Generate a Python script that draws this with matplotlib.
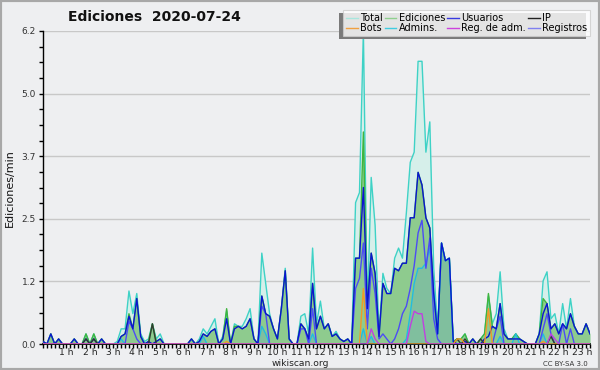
import numpy as np
import matplotlib
matplotlib.use("Agg")
import matplotlib.pyplot as plt
from matplotlib.lines import Line2D
from matplotlib.patches import Rectangle
from matplotlib.transforms import IdentityTransform

# edits per minute, one value every 10 minutes (00:00 .. 23:20)
total = [
    0.05, 0, 0.2, 0, 0.1, 0,          # 0 h
    0, 0, 0.1, 0, 0, 0.2,             # 1 h
    0, 0.2, 0, 0.1, 0, 0,             # 2 h
    0, 0.05, 0.3, 0.3, 1.05, 0.6,     # 3 h
    1.0, 0.2, 0.05, 0.1, 0.4, 0.1,    # 4 h
    0.2, 0, 0, 0, 0, 0,               # 5 h
    0, 0, 0.1, 0, 0.1, 0.3,           # 6 h
    0.2, 0.35, 0.5, 0, 0.15, 0.65,    # 7 h
    0, 0.4, 0.35, 0.35, 0.5, 0.7,     # 8 h
    0.1, 0, 1.8, 1.2, 0.6, 0.3,       # 9 h
    0.1, 0.7, 1.5, 0.1, 0, 0,         # 10 h
    0.55, 0.6, 0.2, 1.9, 0.4, 0.85,   # 11 h
    0.3, 0.4, 0.15, 0.25, 0.1, 0.05,  # 12 h
    0.1, 0, 2.8, 3.0, 6.2, 0.6,       # 13 h
    3.3, 2.35, 0.2, 1.4, 1.1, 1.0,    # 14 h
    1.7, 1.9, 1.7, 2.6, 3.6, 3.8,     # 15 h
    5.6, 5.6, 3.8, 4.4, 1.5, 0.3,     # 16 h
    2.0, 1.65, 1.7, 0.05, 0.1, 0.1,   # 17 h
    0.2, 0, 0.1, 0, 0.1, 0.2,         # 18 h
    0.95, 0.4, 0.6, 1.43, 0.3, 0.1,   # 19 h
    0.1, 0.2, 0.1, 0.05, 0, 0,        # 20 h
    0, 0.2, 1.25, 1.43, 0.5, 0.6,     # 21 h
    0.2, 0.8, 0.3, 0.9, 0.35, 0.2,    # 22 h
    0.2, 0.4, 0.2,                    # 23 h
]

ediciones = [
    0.05, 0, 0.2, 0, 0.1, 0,
    0, 0, 0.1, 0, 0, 0.2,
    0, 0.2, 0, 0.1, 0, 0,
    0, 0, 0.15, 0.2, 0.6, 0.3,
    0.9, 0.15, 0, 0.05, 0.4, 0.05,
    0.1, 0, 0, 0, 0, 0,
    0, 0, 0.1, 0, 0.05, 0.2,
    0.15, 0.25, 0.3, 0, 0.1, 0.7,
    0, 0.35, 0.35, 0.3, 0.35, 0.5,
    0.1, 0, 0.95, 0.6, 0.55, 0.3,
    0.1, 0.7, 1.45, 0.1, 0, 0,
    0.4, 0.3, 0.1, 1.2, 0.3, 0.55,
    0.3, 0.4, 0.15, 0.2, 0.1, 0.05,
    0.1, 0, 1.7, 1.7, 4.2, 0.7,
    1.8, 1.4, 0.15, 1.2, 1.0, 1.0,
    1.5, 1.45, 1.6, 1.6, 2.5, 2.5,
    3.4, 3.15, 2.5, 2.3, 1.0, 0.2,
    2.0, 1.65, 1.7, 0.05, 0.1, 0.1,
    0.2, 0, 0.1, 0, 0.1, 0.2,
    1.0, 0.35, 0.3, 0.8, 0.2, 0.1,
    0.1, 0.2, 0.1, 0.05, 0, 0,
    0, 0.2, 0.9, 0.8, 0.3, 0.4,
    0.2, 0.4, 0.3, 0.6, 0.35, 0.2,
    0.2, 0.4, 0.2,
]

usuarios = [
    0.05, 0, 0.2, 0, 0.1, 0,
    0, 0, 0.1, 0, 0, 0.1,
    0, 0.1, 0, 0.1, 0, 0,
    0, 0, 0.15, 0.2, 0.55, 0.3,
    0.9, 0.15, 0, 0.05, 0, 0.05,
    0.1, 0, 0, 0, 0, 0,
    0, 0, 0.1, 0, 0.05, 0.2,
    0.15, 0.25, 0.3, 0, 0.1, 0.5,
    0, 0.3, 0.35, 0.3, 0.35, 0.5,
    0.1, 0, 0.95, 0.6, 0.55, 0.3,
    0.1, 0.7, 1.45, 0.1, 0, 0,
    0.4, 0.3, 0.1, 1.2, 0.3, 0.55,
    0.3, 0.4, 0.15, 0.2, 0.1, 0.05,
    0.1, 0, 1.7, 1.7, 3.1, 0.7,
    1.8, 1.4, 0.15, 1.2, 1.0, 1.0,
    1.5, 1.45, 1.6, 1.6, 2.5, 2.5,
    3.4, 3.15, 2.5, 2.3, 1.0, 0.2,
    2.0, 1.65, 1.7, 0.05, 0, 0,
    0.05, 0, 0.1, 0, 0, 0.1,
    0.15, 0.35, 0.3, 0.8, 0.2, 0.1,
    0.1, 0.1, 0.1, 0.05, 0, 0,
    0, 0.2, 0.6, 0.8, 0.3, 0.4,
    0.2, 0.4, 0.3, 0.6, 0.35, 0.2,
    0.2, 0.4, 0.2,
]

ip = [
    0, 0, 0, 0, 0, 0,
    0, 0, 0, 0, 0, 0.1,
    0, 0.1, 0, 0, 0, 0,
    0, 0, 0, 0, 0, 0,
    0, 0, 0, 0, 0.4, 0,
    0, 0, 0, 0, 0, 0,
    0, 0, 0, 0, 0, 0,
    0, 0, 0, 0, 0, 0,
    0, 0, 0, 0, 0, 0,
    0, 0, 0, 0, 0, 0,
    0, 0, 0, 0, 0, 0,
    0, 0, 0, 0, 0, 0,
    0, 0, 0, 0, 0, 0,
    0, 0, 0, 0, 0, 0,
    0, 0, 0, 0, 0, 0,
    0, 0, 0, 0, 0, 0,
    0, 0, 0, 0, 0, 0,
    0, 0, 0, 0, 0.1, 0,
    0.1, 0, 0, 0, 0.1, 0,
    0, 0, 0, 0, 0, 0,
    0, 0, 0, 0, 0, 0,
    0, 0, 0, 0, 0.15, 0,
    0, 0, 0, 0, 0, 0,
    0, 0, 0,
]

bots = [
    0, 0, 0, 0, 0, 0,
    0, 0, 0, 0, 0, 0,
    0, 0, 0, 0, 0, 0,
    0, 0, 0, 0, 0, 0,
    0, 0, 0, 0, 0, 0,
    0, 0, 0, 0, 0, 0,
    0, 0, 0, 0, 0, 0,
    0, 0, 0, 0, 0, 0.05,
    0, 0, 0, 0, 0, 0,
    0, 0, 0, 0, 0, 0,
    0, 0, 0, 0, 0, 0,
    0, 0, 0, 0, 0, 0,
    0, 0, 0, 0, 0, 0,
    0, 0, 0, 0, 1.1, 0,
    0, 0, 0, 0, 0, 0,
    0, 0, 0, 0, 0, 0,
    0, 0, 0, 0, 0, 0,
    0, 0, 0, 0, 0.1, 0.1,
    0, 0, 0, 0, 0, 0,
    0.7, 0, 0, 0, 0, 0,
    0, 0, 0, 0, 0, 0,
    0, 0, 0.05, 0, 0, 0,
    0, 0, 0, 0, 0, 0,
    0, 0, 0,
]

admins = [
    0, 0, 0, 0, 0, 0,
    0, 0, 0, 0, 0, 0,
    0, 0, 0, 0, 0, 0,
    0, 0, 0.1, 0, 0, 0,
    0, 0, 0, 0, 0, 0,
    0, 0, 0, 0, 0, 0,
    0, 0, 0, 0, 0, 0.15,
    0, 0, 0, 0, 0, 0,
    0, 0, 0, 0, 0, 0,
    0, 0, 0.35, 0.2, 0, 0,
    0, 0, 0, 0, 0, 0,
    0, 0, 0, 0.2, 0, 0,
    0, 0, 0, 0, 0, 0,
    0, 0, 0, 0, 0.3, 0,
    0.15, 0, 0, 0, 0, 0,
    0, 0, 0, 0.1, 0.6, 1.2,
    1.5, 1.5, 1.6, 1.9, 1.0, 0.2,
    2.0, 1.65, 1.7, 0, 0, 0,
    0, 0, 0, 0, 0, 0,
    0, 0, 0, 0.15, 0, 0,
    0, 0.2, 0, 0, 0, 0,
    0, 0, 0.2, 0, 0, 0,
    0, 0, 0, 0, 0, 0,
    0, 0, 0,
]

reg_adm = [
    0, 0, 0, 0, 0, 0,
    0, 0, 0, 0, 0, 0,
    0, 0, 0, 0, 0, 0,
    0, 0, 0, 0, 0, 0,
    0, 0, 0, 0, 0, 0,
    0, 0, 0, 0, 0, 0,
    0, 0, 0, 0, 0, 0,
    0, 0, 0, 0, 0, 0,
    0, 0, 0, 0, 0, 0,
    0, 0, 0, 0, 0, 0,
    0, 0, 0, 0, 0, 0,
    0, 0, 0, 0, 0, 0,
    0, 0, 0, 0, 0, 0,
    0, 0, 0, 0, 0, 0,
    0.3, 0.1, 0, 0, 0, 0,
    0, 0, 0, 0, 0.35, 0.65,
    0.6, 0.6, 0.05, 0, 0, 0,
    0, 0, 0, 0, 0, 0,
    0, 0, 0, 0, 0, 0,
    0, 0, 0, 0, 0, 0,
    0, 0, 0, 0, 0, 0,
    0, 0, 0, 0, 0.2, 0.1,
    0, 0, 0, 0, 0, 0,
    0, 0, 0,
]

registros = [
    0, 0, 0, 0, 0, 0,
    0, 0, 0, 0, 0, 0,
    0, 0, 0, 0, 0, 0,
    0, 0, 0, 0, 0.45, 0.3,
    0.1, 0, 0, 0, 0, 0,
    0, 0, 0, 0, 0, 0,
    0, 0, 0, 0, 0, 0,
    0, 0, 0, 0, 0, 0,
    0, 0, 0, 0, 0, 0,
    0, 0, 0.75, 0.6, 0, 0,
    0, 0, 0, 0, 0, 0,
    0.3, 0.3, 0, 0.7, 0, 0,
    0, 0, 0, 0, 0, 0,
    0, 0, 1.1, 1.3, 2.0, 0.3,
    1.5, 1.0, 0.1, 0.2, 0.1, 0,
    0.1, 0.3, 0.6, 0.75, 1.1, 1.55,
    2.2, 2.45, 1.5, 2.1, 0.5, 0.1,
    0, 0, 0, 0, 0, 0,
    0, 0, 0, 0, 0, 0,
    0, 0, 0.3, 0.55, 0, 0,
    0, 0, 0, 0, 0, 0,
    0, 0, 0.3, 0.6, 0.2, 0,
    0, 0.4, 0, 0.3, 0, 0,
    0, 0, 0,
]

hours = list(range(1, 24))
hour_labels = [f"{h} h" for h in hours]

x = np.arange(len(total)) / 6.0
bg = "#eeeff1"

fig = plt.figure(figsize=(6, 3.7), dpi=100, facecolor=bg)
ax = fig.add_axes([43 / 600, 26 / 370, 547 / 600, 313 / 370])
ax.set_facecolor(bg)

# areas
ax.fill_between(x, total, color="#d6efea", lw=0, zorder=1)
ax.fill_between(x, ediciones, color="#8ecb8e", lw=0, zorder=2)
ax.fill_between(x, admins, color="#5a9fd0", alpha=0.25, lw=0, zorder=3)

# lines
lw = 1.0
ax.plot(x, total, color="#3ed2c6", lw=lw, zorder=4)
ax.plot(x, ediciones, color="#3fb53f", lw=lw, zorder=5)
ax.plot(x, admins, color="#22bce0", lw=lw, zorder=6)
ax.plot(x, registros, color="#4c4cf5", lw=lw, zorder=7)
ax.plot(x, usuarios, color="#0a14d0", lw=lw, zorder=8)
ax.plot(x, ip, color="#303a30", lw=lw, zorder=9)
ax.plot(x, bots, color="#f09a28", lw=lw, zorder=10)
ax.plot(x, reg_adm, color="#c040e0", lw=lw, zorder=11)

# axes
ax.set_xlim(0, x[-1])
ax.set_ylim(0, 6.2)
yt = np.linspace(0, 6.2, 6)
ax.set_yticks(yt)
ax.set_yticklabels([f"{v:.1f}" for v in yt], fontsize=6.5, color="#333333")
ax.set_yticks(np.linspace(0, 6.2, 21), minor=True)
ax.set_xticks(hours)
ax.set_xticklabels(hour_labels, fontsize=6.6, color="#222222")
ax.set_xticks(np.arange(0, len(total)) / 6.0, minor=True)
ax.tick_params(axis="both", which="both", direction="out", length=3, width=1, color="black", pad=2)
ax.tick_params(axis="x", which="major", pad=0)
ax.grid(axis="y", which="major", color="#c8c8c8", lw=1, zorder=0)
ax.set_axisbelow(True)
for s in ["top", "right"]:
    ax.spines[s].set_visible(False)
ax.spines["left"].set_linewidth(1)
ax.spines["bottom"].set_linewidth(1.2)

# legend
handles = [
    Line2D([], [], color="#a8e6de", lw=1, label="Total"),
    Line2D([], [], color="#f0a040", lw=1, label="Bots"),
    Line2D([], [], color="#8fd08f", lw=1, label="Ediciones"),
    Line2D([], [], color="#40cce0", lw=1, label="Admins."),
    Line2D([], [], color="#3a3ae0", lw=1, label="Usuarios"),
    Line2D([], [], color="#cc44dd", lw=1, label="Reg. de adm."),
    Line2D([], [], color="#222222", lw=1, label="IP"),
    Line2D([], [], color="#8080f0", lw=1, label="Registros"),
]
leg = fig.legend(handles=handles, ncol=4, loc="upper right",
                 bbox_to_anchor=(590 / 600, 1 - 10 / 370), fontsize=7,
                 frameon=True, fancybox=False, shadow=False,
                 handlelength=1.2, handletextpad=0.25, columnspacing=0.2,
                 labelspacing=0.0, borderpad=0.3, borderaxespad=0)
leg.get_frame().set_facecolor("white")
leg.get_frame().set_edgecolor("#cccccc")
leg.get_frame().set_linewidth(0.8)
leg.set_zorder(10)

# texts
fig.text(154 / 600, 1 - 17 / 370, "Ediciones  2020-07-24", ha="center", va="center",
         fontsize=10, fontweight="bold", color="#111111")
fig.text(10 / 600, 1 - 188 / 370, "Ediciones/min", rotation=90, ha="center", va="center",
         fontsize=8, color="#111111")
fig.text(300 / 600, 1 - 363 / 370, "wikiscan.org", ha="center", va="center",
         fontsize=6.6, color="#222222")
fig.text(588 / 600, 1 - 364 / 370, "CC BY-SA 3.0", ha="right", va="center",
         fontsize=5, color="#333333")

fig.patches.append(Rectangle((0, 0), 1, 1, transform=fig.transFigure, fill=False,
                             edgecolor="#a8a8a8", lw=3))

# legend shadow, offset to the lower left
fig.canvas.draw()
bb = leg.get_frame().get_window_extent()
shadow = Rectangle((bb.x0 - 4, bb.y0 - 3), bb.width, bb.height, transform=IdentityTransform(),
                   facecolor="#7a7a7a", edgecolor="none", zorder=5)
fig.patches.append(shadow)

fig.savefig("out.png", dpi=100, facecolor=bg)
